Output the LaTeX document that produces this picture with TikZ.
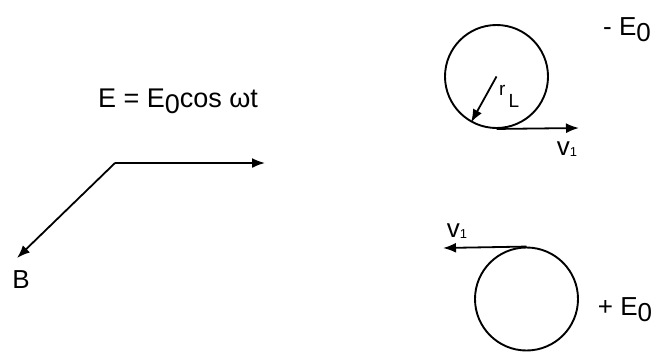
\documentclass[tikz,border=0pt]{standalone}
\usepackage{fontspec}
\setmainfont{Liberation Sans}
\usetikzlibrary{arrows.meta}
\newcommand{\subzero}{\raisebox{-0.24em}{0}}
\newcommand{\subone}{\raisebox{-0.05em}{\fontsize{13}{13}\selectfont 1}}
\begin{document}
\begin{tikzpicture}[x=1pt,y=-1pt,
  vec/.style={line width=1.8pt,-{Latex[length=13pt,width=10pt]}},
  orbit/.style={circle,draw,line width=1.9pt,minimum size=103pt,inner sep=0pt},
  lbl/.style={font=\fontsize{26}{30}\selectfont,inner sep=0pt,anchor=base}]
\useasboundingbox (0,0) rectangle (660,351);
% field axes
\coordinate (corner) at (115,163);
\coordinate (Etip) at (265,163);
\coordinate (Btip) at (17,258);
\draw[vec] (corner) -- (Etip);
\draw[vec] (corner) -- (Btip);
\node[lbl,font=\fontsize{27}{30}\selectfont] (eq) at (178,107) {E = E\subzero cos ωt};
\node[lbl] (B) at (21,288) {B};
% upper orbit
\node[orbit] (c1) at (496.5,76.5) {};
\coordinate (v1a) at (579,128);
\draw[vec] (c1.south) -- (v1a);
\draw[vec] (c1.center) -- (c1.241);
\node[font=\fontsize{19}{22}\selectfont,inner sep=0pt,anchor=base west] (rL) at (499,107) {\raisebox{12pt}{r}\kern3pt L};
\node[lbl] (v1top) at (567,155) {v\subone};
\node[lbl] (mE) at (627,35) {- E\subzero};
% lower orbit
\node[orbit] (c2) at (526.5,299) {};
\coordinate (v1b) at (443,248);
\draw[vec] (c2.north) -- (v1b);
\node[lbl] (v1bot) at (457,237) {v\subone};
\node[lbl] (pE) at (625,315) {+ E\subzero};
\end{tikzpicture}
\end{document}
